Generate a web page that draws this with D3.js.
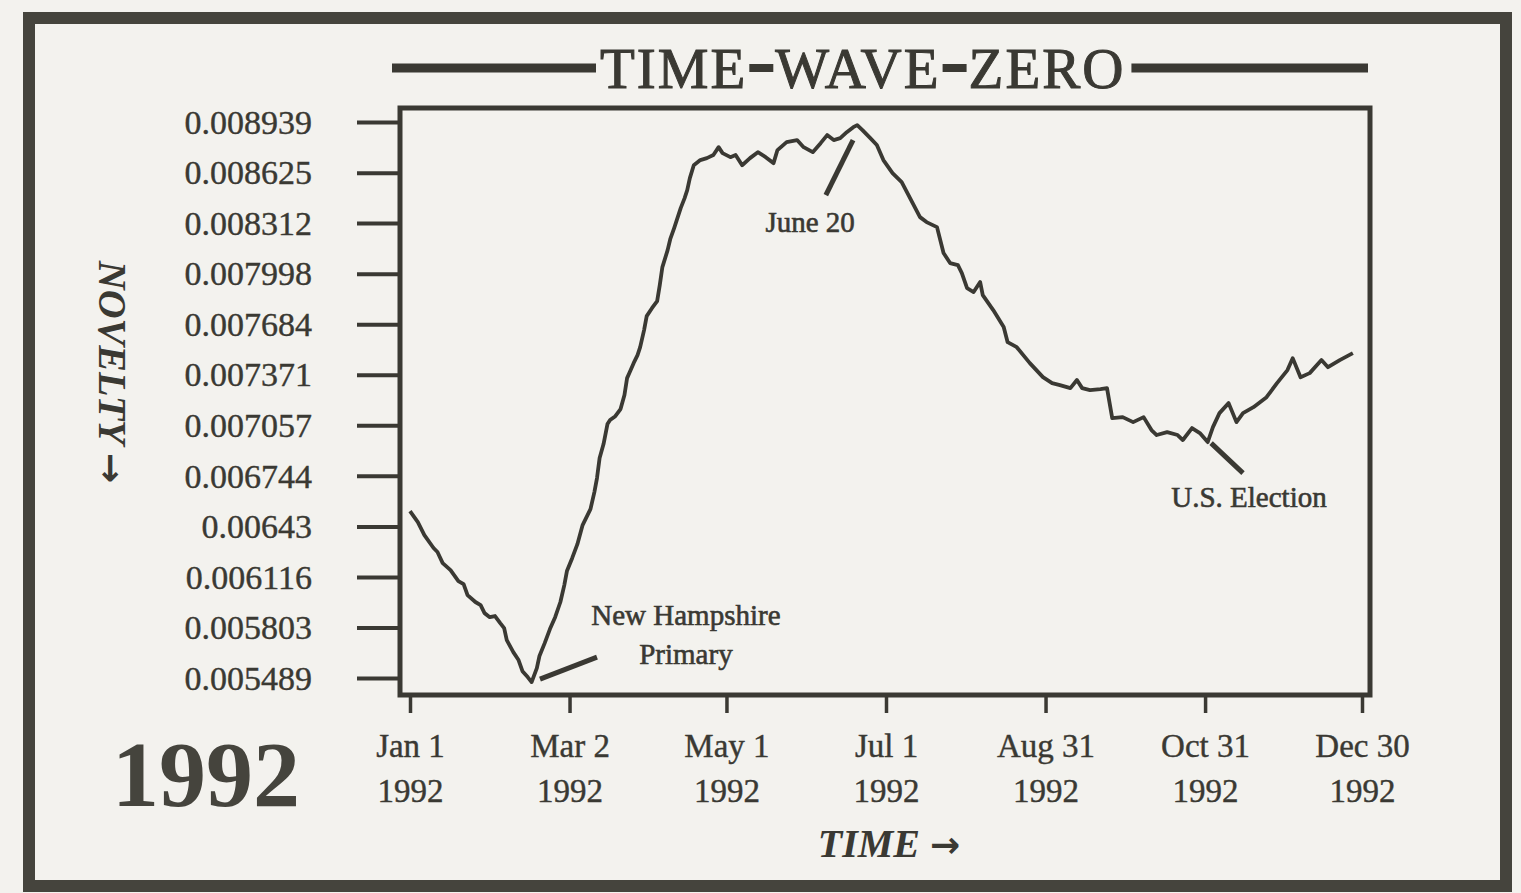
<!DOCTYPE html>
<html lang="en">
<head>
<meta charset="UTF-8">
<title>Time Wave Zero 1992</title>
<script src="https://cdn.jsdelivr.net/npm/d3@7"></script>
<style>
    body { margin: 0; background: #f3f2ee; }
    svg { display: block; font-family: "Liberation Serif", "DejaVu Serif", serif; }
</style>
</head>
<body>
<svg id="chart" width="1521" height="893"></svg>
<script>
// day of year (0 = Jan 1 1992) and novelty value
const dayOfYear = [0,3,5.5,9,10.5,12.5,15.5,18.5,20.5,22,25,27,28.5,30.5,32.5,34.5,36,37,39.5,41.5,43,45,46.5,
    48.5,49.5,51.5,53.5,55.5,57.5,59,60,62,64,66,69,70.5,71.5,72.5,74,75.5,76.5,78.5,80.5,82,83,84,85.5,87,88,89.5,90.5,92.5,94.5,95.5,96.5,98.5,99.5,101,102,103.5,105,106,107,108.5,
    111,113.5,116,118,119.5,122.5,124.5,127,130,133,136,139,140.5,144,148,150.5,154,157,159.5,162,164.5,167,169.5,171,173,176,
    178.5,181,184.5,188,191,195,197.5,201.5,204,206.5,209.5,211,213,215.5,218,219,223,227,228.5,232,237,242,245.5,248.5,252.5,255,257,260,264,266.5,
    268.5,272.5,276.5,280.5,283.5,285.5,289.5,293.5,295.5,299,302,305,307,309.5,313,316,318.5,322.5,327.5,331.5,335.5,337.5,340.5,344,348.5,351,355.5,360.5];

const novelty = [0.006525,0.006457,0.006376,0.006296,0.006271,0.006202,0.006159,0.006091,0.006072,0.006004,0.005961,0.005942,0.005892,0.005867,0.005874,0.005830,0.005799,0.005725,0.005650,0.005601,0.005532,0.005495,0.005464,
    0.005551,0.005626,0.005706,0.005793,0.005867,0.005961,0.006066,0.006153,0.006233,0.006320,0.006438,0.006537,0.006643,0.006730,0.006854,0.006941,0.007065,0.007090,0.007114,0.007158,0.007245,0.007350,0.007387,0.007443,0.007493,0.007542,0.007648,0.007735,0.007784,0.007828,0.007927,0.008039,0.008144,0.008212,0.008281,0.008330,0.008405,0.008467,0.008516,0.008591,0.008671,
    0.008703,0.008715,0.008734,0.008783,0.008746,0.008721,0.008734,0.008671,0.008715,0.008752,0.008721,0.008684,0.008765,0.008814,0.008827,0.008783,0.008752,0.008808,0.008858,0.008827,0.008839,0.008876,0.008907,0.008920,0.008889,0.008839,
    0.008796,0.008703,0.008622,0.008566,0.008473,0.008349,0.008318,0.008287,0.008126,0.008064,0.008051,0.008002,0.007908,0.007884,0.007946,0.007865,0.007772,0.007667,0.007573,0.007542,0.007443,0.007356,0.007319,0.007307,0.007288,0.007338,0.007288,0.007276,0.007282,0.007288,
    0.007102,0.007108,0.007077,0.007108,0.007028,0.006997,0.007015,0.006997,0.006966,0.007040,0.007009,0.006953,0.007046,0.007133,0.007195,0.007077,0.007133,0.007170,0.007232,0.007319,0.007400,0.007474,0.007356,0.007381,0.007462,0.007418,0.007462,0.007505];

const yTickValues = [0.008939,0.008625,0.008312,0.007998,0.007684,0.007371,0.007057,0.006744,0.00643,0.006116,0.005803,0.005489];
const yTickLabels = ["0.008939","0.008625","0.008312","0.007998","0.007684","0.007371","0.007057","0.006744","0.00643","0.006116","0.005803","0.005489"];

const xTickDays = [0, 61, 121, 182, 243, 304, 364];
const xTickLabels = ["Jan 1", "Mar 2", "May 1", "Jul 1", "Aug 31", "Oct 31", "Dec 30"];
const xTickYear = "1992";

const titleWords = ["TIME", "WAVE", "ZERO"];

// event notes: label lines, label anchor (day, value), pointer from/to (day, value)
const notes = [
    { lines: ["June 20"], at: [153, 0.008256], from: [159, 0.008485], to: [169.4, 0.008827] },
    { lines: ["New Hampshire", "Primary"], at: [105.5, 0.005818], from: [49.7, 0.005483], to: [71.5, 0.005619] },
    { lines: ["U.S. Election"], at: [320.8, 0.006550], from: [306.3, 0.006947], to: [318.5, 0.006761] }
];

const ink = "#3a3933";
const svg = d3.select("#chart");

const plot = { left: 400, top: 108, right: 1370, bottom: 695 };

const x = d3.scaleLinear().domain([0, 364]).range([410, 1362]);
const y = d3.scaleLinear().domain([0.005384, 0.009026]).range([plot.bottom, plot.top]);

// outer frame
svg.append("rect")
    .attr("x", 29).attr("y", 18).attr("width", 1477).attr("height", 868)
    .attr("fill", "none").attr("stroke", "#45443d").attr("stroke-width", 12);

// title with rules
const titleY = 68;
const titleG = svg.append("g");
let cx = 600;
const connector = 24;
titleWords.forEach((w, i) => {
    const t = titleG.append("text")
        .attr("x", cx).attr("y", titleY + 20)
        .attr("font-size", 57)
        .attr("fill", ink).attr("stroke", ink).attr("stroke-width", 1)
        .attr("letter-spacing", 2)
        .text(w);
    const len = t.node().getComputedTextLength();
    cx += len + 2;
    if (i < titleWords.length - 1) {
        titleG.append("line")
            .attr("x1", cx).attr("x2", cx + connector)
            .attr("y1", titleY).attr("y2", titleY)
            .attr("stroke", ink).attr("stroke-width", 8);
        cx += connector + 2;
    }
});
titleG.append("line")
    .attr("x1", 392).attr("x2", 596).attr("y1", titleY).attr("y2", titleY)
    .attr("stroke", ink).attr("stroke-width", 9);
titleG.append("line")
    .attr("x1", cx + 4).attr("x2", 1368).attr("y1", titleY).attr("y2", titleY)
    .attr("stroke", ink).attr("stroke-width", 9);

// y axis
const yAxis = svg.append("g")
    .attr("transform", `translate(${plot.left},0)`)
    .call(d3.axisLeft(y).tickValues(yTickValues).tickSize(43).tickPadding(45)
        .tickFormat((d, i) => yTickLabels[i]));
yAxis.select(".domain").remove();
yAxis.selectAll(".tick line").attr("stroke", ink).attr("stroke-width", 4);
yAxis.selectAll(".tick text")
    .attr("font-size", 34).attr("font-family", "Liberation Serif, serif")
    .attr("fill", ink).attr("stroke", ink).attr("stroke-width", 0.4)
    .attr("dy", "0.33em");

// x axis
const xAxis = svg.append("g")
    .attr("transform", `translate(0,${plot.bottom})`)
    .call(d3.axisBottom(x).tickValues(xTickDays).tickSize(18).tickFormat(""));
xAxis.select(".domain").remove();
xAxis.selectAll(".tick line").attr("stroke", ink).attr("stroke-width", 3.5);
xAxis.selectAll(".tick").each(function(d, i) {
    const g = d3.select(this);
    g.append("text").attr("y", 62).attr("text-anchor", "middle")
        .attr("font-size", 33).attr("font-family", "Liberation Serif, serif")
        .attr("fill", ink).attr("stroke", ink).attr("stroke-width", 0.4)
        .text(xTickLabels[i]);
    g.append("text").attr("y", 107).attr("text-anchor", "middle")
        .attr("font-size", 33).attr("font-family", "Liberation Serif, serif")
        .attr("fill", ink).attr("stroke", ink).attr("stroke-width", 0.4)
        .text(xTickYear);
});

// plot box
svg.append("rect")
    .attr("x", plot.left).attr("y", plot.top)
    .attr("width", plot.right - plot.left).attr("height", plot.bottom - plot.top)
    .attr("fill", "none").attr("stroke", ink).attr("stroke-width", 5);

// the wave
const series = dayOfYear.map((d, i) => ({ day: d, v: novelty[i] }));
svg.append("path")
    .datum(series)
    .attr("fill", "none")
    .attr("stroke", ink)
    .attr("stroke-width", 3.8)
    .attr("stroke-linejoin", "round")
    .attr("d", d3.line().x(d => x(d.day)).y(d => y(d.v)));

// notes
notes.forEach(n => {
    svg.append("line")
        .attr("x1", x(n.from[0])).attr("y1", y(n.from[1]))
        .attr("x2", x(n.to[0])).attr("y2", y(n.to[1]))
        .attr("stroke", ink).attr("stroke-width", 5);
    n.lines.forEach((l, i) => {
        svg.append("text")
            .attr("x", x(n.at[0])).attr("y", y(n.at[1]) + i * 39)
            .attr("text-anchor", "middle")
            .attr("font-size", 29)
            .attr("fill", ink).attr("stroke", ink).attr("stroke-width", 0.6)
            .text(l);
    });
});

// axis titles and year
const novelTitle = svg.append("text")
    .attr("transform", "translate(99,372) rotate(90)")
    .attr("text-anchor", "middle")
    .attr("font-size", 40).attr("font-weight", "bold").attr("font-style", "italic")
    .attr("fill", ink);
novelTitle.append("tspan").text("NOVELTY ");
novelTitle.append("tspan")
    .attr("font-family", "DejaVu Sans, sans-serif").attr("font-style", "normal")
    .attr("font-size", 36)
    .text("\u2192");

const timeTitle = svg.append("text")
    .attr("x", 889).attr("y", 857)
    .attr("text-anchor", "middle")
    .attr("font-size", 40).attr("font-weight", "bold").attr("font-style", "italic")
    .attr("fill", ink);
timeTitle.append("tspan").text("TIME ");
timeTitle.append("tspan")
    .attr("font-family", "DejaVu Sans, sans-serif").attr("font-style", "normal")
    .attr("font-size", 36)
    .text("\u2192");

svg.append("text")
    .attr("x", 206).attr("y", 806)
    .attr("text-anchor", "middle")
    .attr("font-size", 94).attr("font-weight", "bold")
    .attr("fill", "#45443d")
    .text("1992");
</script>
</body>
</html>
